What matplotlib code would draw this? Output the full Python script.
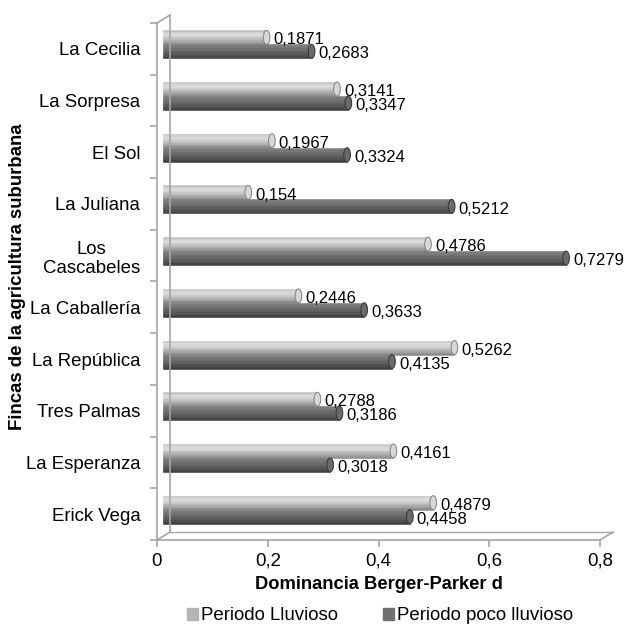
import matplotlib
matplotlib.use("Agg")
import matplotlib.pyplot as plt
import matplotlib.transforms as mtransforms
from matplotlib.patches import Ellipse
from matplotlib.lines import Line2D
import numpy as np

plt.rcParams['font.family'] = ['Liberation Sans', 'DejaVu Sans']

fincas = ['La Cecilia', 'La Sorpresa', 'El Sol', 'La Juliana', 'Los\nCascabeles',
          'La Caballería', 'La República', 'Tres Palmas', 'La Esperanza', 'Erick Vega']
lluvioso = [0.1871, 0.3141, 0.1967, 0.154, 0.4786, 0.2446, 0.5262, 0.2788, 0.4161, 0.4879]
poco_lluvioso = [0.2683, 0.3347, 0.3324, 0.5212, 0.7279, 0.3633, 0.4135, 0.3186, 0.3018, 0.4458]
xticks = [0, 0.2, 0.4, 0.6, 0.8]

light_shades = ['#c2c2c2', '#d0d0d0', '#dadada', '#d8d8d8', '#cecece',
                '#c2c2c2', '#b5b5b5', '#a8a8a8', '#9a9a9a', '#8a8a8a']
dark_shades = ['#7c7c7c', '#767676', '#707070', '#6a6a6a', '#636363',
               '#5c5c5c', '#555555', '#4e4e4e', '#464646', '#3c3c3c']

fig = plt.figure(figsize=(6.32, 6.25), dpi=100)
ax = fig.add_axes([157 / 632, 1 - 540 / 625, 443 / 632, 517 / 625])
n = len(fincas)
ypos = np.arange(n)
ax.set_xlim(0, 0.8)
ax.set_ylim(n - 0.5, -0.5)

# fake 3D depth: bars sit a little behind the front frame, the wall further back
bar_off = ax.transData + mtransforms.ScaledTranslation(0.06, 0.045, fig.dpi_scale_trans)
wall_off = mtransforms.ScaledTranslation(0.13, 0.08, fig.dpi_scale_trans)

gray = '#a6a6a6'
ax.plot([0, 0], [-0.5, n - 0.5], color=gray, lw=1.2, clip_on=False)
ax.plot([0, 0.8], [n - 0.5, n - 0.5], color=gray, lw=1.2, clip_on=False)
ax.plot([0, 0], [-0.5, n - 0.5], color=gray, lw=1.2, clip_on=False,
        transform=ax.transData + wall_off)
ax.plot([0, 0.8], [n - 0.5, n - 0.5], color=gray, lw=1.0, clip_on=False,
        transform=ax.transData + wall_off)
tl = ax.transData
for xx, yy in ((0, -0.5), (0, n - 0.5), (0.8, n - 0.5)):
    p0 = tl.transform((xx, yy))
    p1 = (tl + wall_off).transform((xx, yy))
    fig.add_artist(Line2D([p0[0] / fig.bbox.width, p1[0] / fig.bbox.width],
                          [p0[1] / fig.bbox.height, p1[1] / fig.bbox.height],
                          color=gray, lw=1.2))

h = 0.27
nstripe = len(light_shades)
for vals, shades, yshift in ((lluvioso, light_shades, -h / 2), (poco_lluvioso, dark_shades, h / 2)):
    sh = h / nstripe
    for k in range(nstripe):
        yc = ypos + yshift - h / 2 + sh * (k + 0.5)
        ax.barh(yc, vals, height=sh, left=0, color=shades[k], edgecolor=shades[k],
                linewidth=0.4, transform=bar_off, clip_on=False)
    for i, v in enumerate(vals):
        ax.add_patch(Ellipse((v, ypos[i] + yshift), 0.012, h, facecolor=shades[3],
                             edgecolor=shades[-1], lw=0.8, transform=bar_off, clip_on=False))
        ax.annotate(f'{v:g}'.replace('.', ','), (v, ypos[i] + yshift + 0.05),
                    xytext=(5, 0), textcoords='offset points', va='center', ha='left',
                    fontsize=12, color='#000000', xycoords=bar_off)

for s in ax.spines.values():
    s.set_visible(False)
ax.set_yticks(np.arange(-0.5, n, 1))
ax.set_yticklabels([])
ax.set_yticks(ypos, minor=True)
ax.set_yticklabels(fincas, minor=True, fontsize=13.4, ha='right', multialignment='center')
ax.tick_params(axis='y', which='minor', length=0, pad=12)
ax.tick_params(axis='y', which='major', length=5, color=gray, width=1.2)
ax.set_xticks(xticks)
ax.set_xticklabels([f'{t:g}'.replace('.', ',') for t in xticks], fontsize=13.4)
ax.tick_params(axis='x', length=5, color=gray, width=1.2, pad=4)

ax.set_xlabel('Dominancia Berger-Parker d', fontsize=13.2, fontweight='bold', labelpad=5)
fig.text(18 / 632, 1 - 277 / 625, 'Fincas de la agricultura suburbana', rotation=90,
         fontsize=13.4, fontweight='bold', ha='center', va='center')

handles = [plt.Rectangle((0, 0), 1, 1, color='#b4b4b4'), plt.Rectangle((0, 0), 1, 1, color='#707070')]
fig.legend(handles, ['Periodo Lluvioso', 'Periodo poco lluvioso'], loc='center',
           bbox_to_anchor=(380 / 632, 1 - 616 / 625), ncol=2, frameon=False, fontsize=13.4,
           handlelength=0.6, handleheight=0.6, handletextpad=0.15, columnspacing=2.4)

fig.savefig('out.png', dpi=100)
